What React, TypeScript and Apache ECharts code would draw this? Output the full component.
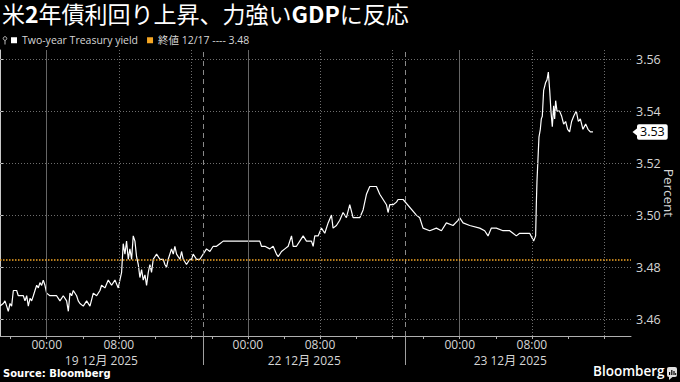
import React, { useEffect, useRef } from "react";
import * as echarts from "echarts";

// ---------- data ----------
const TITLE = "米{b|2}年債利回り上昇、力強い{b|GDP}に反応";
const SERIES_NAME = "Two-year Treasury yield";
const CLOSE_VALUE = 3.483;
const CLOSE_LABEL = "終値 12/17 ---- 3.48";
const Y_AXIS_NAME = "Percent";
const SOURCE_TEXT = "Source: Bloomberg";
const BRAND_TEXT = "Bloomberg";

const DAY_LABELS = ["19 12月 2025", "22 12月 2025", "23 12月 2025"];
// position (hours on the session-compressed axis) of each day's 00:00
const DAY_MIDNIGHT = [5.18, 27.5, 51.0];
const SESSION_BREAKS = [22.5, 45.0];
const DAY_CENTERS = [11.25, 33.75, 56.6];
const GRID_HOURS = [0, 8, 16];
const LABEL_HOURS = [0, 8];
const MINOR_HOURS = [-4, 0, 4, 8, 12, 16];
const Y_TICKS = [3.46, 3.48, 3.5, 3.52, 3.54, 3.56];
const X_MIN = 0;
const X_MAX = 70;
const Y_MIN = 3.4535;
const Y_MAX = 3.5635;

// session-compressed time (hours) and yields
const xHours = [
  0.0, 0.37, 0.55, 0.74, 0.92, 1.11, 1.29, 1.48, 1.85, 2.03, 2.59, 2.77, 2.96, 3.14, 3.33, 3.51,
  3.7, 3.88, 4.07, 4.25, 4.43, 4.62, 4.8, 4.99, 5.17, 5.54, 5.91, 6.28, 6.65, 7.02, 7.39, 7.58,
  7.76, 7.95, 8.13, 8.5, 8.68, 8.87, 9.24, 9.61, 9.98, 10.35, 10.72, 11.09, 11.27, 11.64, 12.01,
  12.38, 12.75, 13.12, 13.3, 13.49, 13.67, 13.86, 14.04, 14.23, 14.41, 14.6, 14.78, 14.97, 15.15,
  15.34, 15.52, 15.71, 15.89, 16.08, 16.26, 16.45, 16.63, 16.81, 17.0, 17.37, 17.74, 18.11, 18.29,
  18.48, 18.66, 19.03, 19.22, 19.4, 19.59, 19.96, 20.14, 20.33, 20.69, 21.06, 21.25, 21.43, 21.8,
  22.17, 22.54, 22.91, 23.28, 23.65, 24.02, 24.39, 24.76, 25.13, 28.82, 29.01, 29.38, 29.93, 30.3,
  30.67, 30.86, 31.23, 31.6, 31.97, 32.34, 32.52, 32.89, 33.26, 33.63, 34.0, 34.55, 34.74, 34.92,
  35.29, 35.66, 36.03, 36.4, 36.77, 36.95, 37.32, 37.69, 38.06, 38.43, 38.8, 39.17, 39.54, 39.91,
  40.28, 40.65, 41.02, 41.76, 42.13, 42.5, 42.87, 43.05, 43.24, 43.61, 43.98, 44.16, 44.53, 44.72,
  46.19, 46.56, 46.93, 47.67, 48.41, 48.97, 49.52, 50.26, 50.81, 51.0, 51.37, 52.11, 53.22, 53.77,
  54.14, 54.51, 55.06, 55.8, 56.54, 56.91, 57.28, 57.65, 58.02, 58.76, 59.2, 59.42, 59.5, 59.57,
  59.79, 59.94, 60.05, 60.16, 60.31, 60.53, 60.68, 60.83, 60.98, 61.12, 61.27, 61.42, 61.53, 61.64,
  61.79, 62.08, 62.31, 62.53, 62.75, 62.97, 63.19, 63.41, 63.64, 63.93, 64.16, 64.38, 64.67, 64.97,
  65.23, 65.49, 65.78,
];
const yields = [
  3.465, 3.466, 3.467, 3.465, 3.463, 3.466, 3.465, 3.471, 3.471, 3.469, 3.469, 3.467, 3.469, 3.465,
  3.468, 3.467, 3.469, 3.471, 3.473, 3.472, 3.474, 3.473, 3.475, 3.473, 3.47, 3.469, 3.469, 3.469,
  3.467, 3.469, 3.467, 3.463, 3.47, 3.469, 3.471, 3.469, 3.467, 3.466, 3.465, 3.467, 3.465, 3.47,
  3.469, 3.471, 3.473, 3.472, 3.475, 3.473, 3.475, 3.472, 3.475, 3.478, 3.489, 3.485, 3.49, 3.483,
  3.487, 3.483, 3.492, 3.49, 3.484, 3.481, 3.476, 3.479, 3.475, 3.477, 3.473, 3.478, 3.481, 3.478,
  3.483, 3.485, 3.483, 3.483, 3.481, 3.48, 3.483, 3.487, 3.485, 3.488, 3.485, 3.483, 3.486, 3.483,
  3.481, 3.483, 3.483, 3.485, 3.483, 3.483, 3.485, 3.487, 3.486, 3.488, 3.488, 3.489, 3.49, 3.49,
  3.49, 3.488, 3.488, 3.487, 3.488, 3.485, 3.484, 3.486, 3.487, 3.488, 3.492, 3.488, 3.488, 3.49,
  3.492, 3.49, 3.49, 3.488, 3.492, 3.492, 3.495, 3.493, 3.497, 3.5, 3.495, 3.496, 3.498, 3.501,
  3.499, 3.504, 3.499, 3.499, 3.499, 3.502, 3.508, 3.511, 3.511, 3.508, 3.506, 3.504, 3.501, 3.504,
  3.504, 3.505, 3.506, 3.506, 3.506, 3.5, 3.499, 3.495, 3.494, 3.495, 3.494, 3.497, 3.496, 3.498,
  3.499, 3.497, 3.496, 3.495, 3.494, 3.492, 3.495, 3.495, 3.494, 3.494, 3.493, 3.492, 3.493, 3.493,
  3.493, 3.49, 3.492, 3.5045, 3.513, 3.53, 3.533, 3.537, 3.538, 3.548, 3.551, 3.552, 3.555, 3.548,
  3.54, 3.534, 3.542, 3.537, 3.544, 3.54, 3.54, 3.538, 3.535, 3.536, 3.533, 3.532, 3.536, 3.538,
  3.54, 3.536, 3.537, 3.533, 3.535, 3.533, 3.532, 3.532,
];

const WHITE = "#ffffff";
const ORANGE = "#f5a623";
const GRID_COLOR = "#6e6e6e";
const LABEL_COLOR = "#d6d6d6";
const LATIN = "'Open Sans', 'Noto Sans CJK JP', sans-serif";

export default function App() {
  const ref = useRef<HTMLDivElement>(null);

  useEffect(() => {
    if (!ref.current) return;
    const chart = echarts.init(ref.current, undefined, { renderer: "svg" });

    const timeLabelPos: number[] = [];
    const timeLabelText: string[] = [];
    DAY_MIDNIGHT.forEach((m) =>
      LABEL_HOURS.forEach((h) => {
        timeLabelPos.push(m + h);
        timeLabelText.push(String(h).padStart(2, "0") + ":00");
      })
    );
    const minorTicks: number[] = [];
    DAY_MIDNIGHT.forEach((m) => MINOR_HOURS.forEach((h) => minorTicks.push(m + h)));

    const gridLines: any[] = [];
    Y_TICKS.forEach((v) =>
      gridLines.push({ yAxis: v, lineStyle: { color: GRID_COLOR, type: [1, 2], width: 1 } })
    );
    DAY_MIDNIGHT.forEach((m) =>
      GRID_HOURS.forEach((h) => {
        gridLines.push({
          xAxis: m + h,
          lineStyle: { color: h === 0 ? "#666666" : GRID_COLOR, type: h === 0 ? "solid" : [1, 2], width: 1 },
        });
      })
    );
    SESSION_BREAKS.forEach((b) =>
      gridLines.push({ xAxis: b, lineStyle: { color: "#8a8a8a", type: [5, 4], width: 1 } })
    );

    const lineData = xHours.map((x, i) => [x, yields[i]]);
    const last = yields[yields.length - 1];
    const anchor = [[X_MAX, Y_MAX]];

    const lookup = (arr: number[], v: number) => arr.findIndex((p) => Math.abs(p - v) < 0.01);

    const option: any = {
      backgroundColor: "#000000",
      animation: false,
      textStyle: { fontFamily: LATIN },
      grid: [
        { left: 0, right: 49, top: 50, bottom: 46, containLabel: false, outerBoundsMode: "none" },
        { left: 0, right: 49, top: 50, bottom: 46, containLabel: false, outerBoundsMode: "none" },
      ],
      legend: {
        left: 11,
        top: 35,
        padding: 0,
        itemWidth: 6,
        itemHeight: 6,
        itemGap: 9,
        icon: "rect",
        selectedMode: false,
        data: [SERIES_NAME, CLOSE_LABEL],
        textStyle: { color: LABEL_COLOR, fontSize: 10.5, fontFamily: LATIN },
      },
      xAxis: [
        {
          type: "value",
          gridIndex: 0,
          min: X_MIN,
          max: X_MAX,
          axisLine: { show: true, lineStyle: { color: "#b0b0b0", width: 1 } },
          axisTick: { show: true, customValues: minorTicks, length: 3, lineStyle: { color: "#b0b0b0" } },
          axisLabel: {
            show: true,
            customValues: timeLabelPos,
            formatter: (v: number) => {
              const i = lookup(timeLabelPos, v);
              return i >= 0 ? timeLabelText[i] : "";
            },
            color: LABEL_COLOR,
            fontSize: 12,
            lineHeight: 12,
            fontFamily: LATIN,
            margin: 2,
          },
          splitLine: { show: false },
        },
        {
          type: "value",
          gridIndex: 1,
          min: X_MIN,
          max: X_MAX,
          axisLine: { show: false },
          axisTick: { show: true, customValues: SESSION_BREAKS, length: 29, lineStyle: { color: "#a0a0a0" } },
          axisLabel: {
            show: true,
            customValues: DAY_CENTERS,
            formatter: (v: number) => {
              const i = lookup(DAY_CENTERS, v);
              return i >= 0 ? DAY_LABELS[i] : "";
            },
            color: LABEL_COLOR,
            fontSize: 12,
            lineHeight: 12,
            fontFamily: LATIN,
            margin: 18,
          },
          splitLine: { show: false },
        },
      ],
      yAxis: [
        {
          type: "value",
          gridIndex: 0,
          position: "right",
          min: Y_MIN,
          max: Y_MAX,
          axisLine: { show: true, lineStyle: { color: "#c8c8c8", width: 1 } },
          axisTick: { show: true, customValues: Y_TICKS, length: 3, lineStyle: { color: "#c8c8c8" } },
          axisLabel: {
            show: true,
            customValues: Y_TICKS,
            formatter: (v: number) => v.toFixed(2),
            color: LABEL_COLOR,
            fontSize: 12.5,
            fontFamily: LATIN,
            margin: 5,
          },
          splitLine: { show: false },
          name: Y_AXIS_NAME,
          nameLocation: "middle",
          nameRotate: -90,
          nameGap: 31,
          nameMoveOverlap: false,
          nameTextStyle: { color: LABEL_COLOR, fontSize: 13.5, fontFamily: LATIN },
        },
        { type: "value", gridIndex: 1, min: Y_MIN, max: Y_MAX, show: false },
      ],
      series: [
        {
          name: "grid",
          type: "line",
          xAxisIndex: 0,
          yAxisIndex: 0,
          data: anchor,
          symbol: "none",
          lineStyle: { width: 0, color: "rgba(0,0,0,0)" },
          silent: true,
          z: 1,
          markLine: {
            symbol: ["none", "none"],
            silent: true,
            precision: 4,
            label: { show: false },
            data: gridLines,
          },
        },
        {
          name: CLOSE_LABEL,
          type: "line",
          xAxisIndex: 0,
          yAxisIndex: 0,
          data: anchor,
          symbol: "none",
          itemStyle: { color: ORANGE },
          lineStyle: { color: ORANGE, width: 0 },
          z: 2,
          markLine: {
            symbol: ["none", "none"],
            silent: true,
            precision: 4,
            label: { show: false },
            data: [{ yAxis: CLOSE_VALUE, lineStyle: { color: ORANGE, type: [1.5, 1.5], width: 1.5 } }],
          },
        },
        {
          name: SERIES_NAME,
          type: "line",
          xAxisIndex: 0,
          yAxisIndex: 0,
          data: lineData,
          showSymbol: false,
          symbol: "none",
          lineStyle: { color: WHITE, width: 1.2 },
          itemStyle: { color: WHITE },
          z: 3,
          markLine: {
            symbol: ["none", "none"],
            silent: true,
            precision: 4,
            data: [
              {
                yAxis: last,
                lineStyle: { color: "rgba(0,0,0,0)", width: 0 },
                label: {
                  show: true,
                  position: "end",
                  distance: 6,
                  formatter: () => last.toFixed(2),
                  backgroundColor: WHITE,
                  color: "#000",
                  fontSize: 12.5,
                  fontFamily: LATIN,
                  padding: [2, 3, 1, 3],
                  borderRadius: 2,
                },
              },
            ],
          },
          markPoint: {
            silent: true,
            label: { show: false },
            data: [
              {
                coord: [X_MAX, last],
                symbol: "triangle",
                symbolSize: [8, 5],
                symbolRotate: 90,
                symbolOffset: [4, 0],
                itemStyle: { color: WHITE },
              },
            ],
          },
        },
      ],
      graphic: [
        {
          type: "text",
          left: 2,
          top: 1,
          style: {
            text: TITLE,
            fill: WHITE,
            fontSize: 23,
            fontFamily: "'Noto Sans CJK JP', sans-serif",
            rich: { b: { fontWeight: "bold", fontSize: 23, fill: WHITE, fontFamily: "'Noto Sans CJK JP', sans-serif" } },
          },
        },
        { type: "circle", shape: { cx: 5, cy: 38.5, r: 1.8 }, style: { fill: "none", stroke: "#bbb", lineWidth: 1 } },
        { type: "line", shape: { x1: 5, y1: 40.3, x2: 5, y2: 44.5 }, style: { stroke: "#bbb", lineWidth: 1 } },
        {
          type: "text",
          left: 3,
          top: 368,
          style: { text: SOURCE_TEXT, fill: WHITE, fontSize: 10, fontWeight: "bold", fontFamily: "'DejaVu Sans', sans-serif" },
        },
        {
          type: "text",
          left: 593,
          top: 364,
          style: { text: BRAND_TEXT, fill: WHITE, fontSize: 13.5, fontWeight: 600, fontFamily: LATIN },
        },
        { type: "rect", shape: { x: 667, y: 367, width: 10, height: 10, r: 2 }, style: { fill: "#e0e0e0" } },
        { type: "polygon", shape: { points: [[669, 376.5], [673, 376.5], [669, 380]] }, style: { fill: "#e0e0e0" } },
        { type: "rect", shape: { x: 669, y: 372, width: 1.2, height: 3 }, style: { fill: "#000" } },
        { type: "rect", shape: { x: 671.2, y: 370, width: 1.2, height: 5 }, style: { fill: "#000" } },
        { type: "rect", shape: { x: 673.4, y: 371, width: 1.2, height: 4 }, style: { fill: "#000" } },
        { type: "rect", shape: { x: 675.2, y: 373, width: 1, height: 2 }, style: { fill: "#000" } },
      ],
    };

    chart.setOption(option);
    return () => chart.dispose();
  }, []);

  return (
    <div
      ref={ref}
      style={{ position: "fixed", left: 0, top: 0, width: 680, height: 382, background: "#000" }}
    />
  );
}
